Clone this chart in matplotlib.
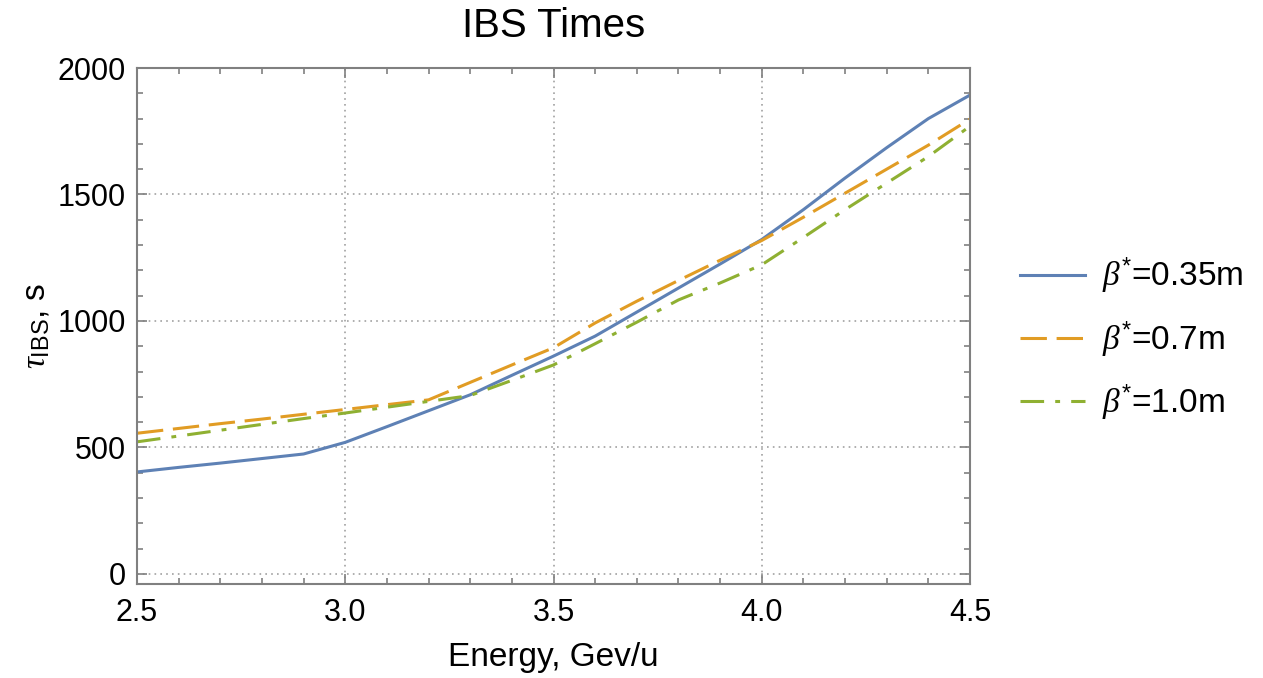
import numpy as np
import matplotlib
matplotlib.use("Agg")
import matplotlib.pyplot as plt
from matplotlib.ticker import MultipleLocator

plt.rcParams['font.family'] = ['Liberation Sans', 'DejaVu Sans']
plt.rcParams['mathtext.fontset'] = 'custom'
plt.rcParams['mathtext.rm'] = 'Liberation Sans'
plt.rcParams['mathtext.it'] = 'Liberation Serif:italic'
plt.rcParams['lines.scale_dashes'] = False

# energy grid, GeV/u
energy = [2.5, 2.6, 2.7, 2.8, 2.9, 3.0, 3.1, 3.2, 3.3, 3.4, 3.5,
          3.6, 3.7, 3.8, 3.9, 4.0, 4.1, 4.2, 4.3, 4.4, 4.5]

# IBS times (s)
tau_035 = [403, 421, 438, 456, 474, 520, 582, 645, 708, 785, 861,
           940, 1035, 1130, 1225, 1322, 1440, 1565, 1685, 1800, 1893]
tau_07 = [556, 575, 594, 612, 631, 650, 669, 688, 757, 826, 894,
          992, 1078, 1160, 1240, 1318, 1410, 1505, 1600, 1695, 1798]
tau_10 = [522, 545, 568, 591, 614, 636, 659, 682, 705, 765, 826,
          910, 995, 1083, 1150, 1222, 1330, 1440, 1545, 1650, 1770]

labels = [r'$\beta^{*}$=0.35m', r'$\beta^{*}$=0.7m', r'$\beta^{*}$=1.0m']
colors = ['#5E81B5', '#E19C24', '#8FB032']

W, H = 1263, 678
fig = plt.figure(figsize=(W / 100, H / 100), dpi=100)
ax = fig.add_axes([137 / W, 1 - 584 / H, (970 - 137) / W, (584 - 68) / H])

ax.plot(energy, tau_035, color=colors[0], lw=2.2, label=labels[0])
ax.plot(energy, tau_07, color=colors[1], lw=2.2, ls=(0, (19, 7)), label=labels[1])
ax.plot(energy, tau_10, color=colors[2], lw=2.2, ls=(0, (17, 8, 3.5, 8)), label=labels[2])

ax.set_xlim(2.5, 4.5)
ax.set_ylim(-40, 2000)
ax.xaxis.set_major_locator(MultipleLocator(0.5))
ax.xaxis.set_minor_locator(MultipleLocator(0.1))
ax.yaxis.set_major_locator(MultipleLocator(500))
ax.yaxis.set_minor_locator(MultipleLocator(100))
ax.xaxis.set_major_formatter(matplotlib.ticker.FormatStrFormatter('%.1f'))

ax.tick_params(which='both', direction='in', top=True, right=True, color='#808080', width=1.2)
ax.tick_params(which='major', length=7, labelsize=22, pad=8)
ax.tick_params(which='minor', length=4)
ax.tick_params(axis='x', which='major', pad=10)
for s in ax.spines.values():
    s.set_color('#808080')
    s.set_linewidth(1.5)

ax.grid(True, which='major', ls=(0, (1.2, 3)), color='#a8a8a8', lw=1.3)

ax.set_title('IBS Times', fontsize=29, pad=22)
ax.set_xlabel('Energy, Gev/u', fontsize=24, labelpad=10)
ax.set_ylabel(r'$\tau_{\mathrm{IBS}}$, s', fontsize=24, labelpad=4)

fig.legend(loc='upper left', bbox_to_anchor=(1020 / W, 1 - 256 / H),
           frameon=False, fontsize=24, handlelength=1.95, handletextpad=0.5,
           labelspacing=0.7, borderpad=0, borderaxespad=0)

fig.savefig('out.png', dpi=100)
